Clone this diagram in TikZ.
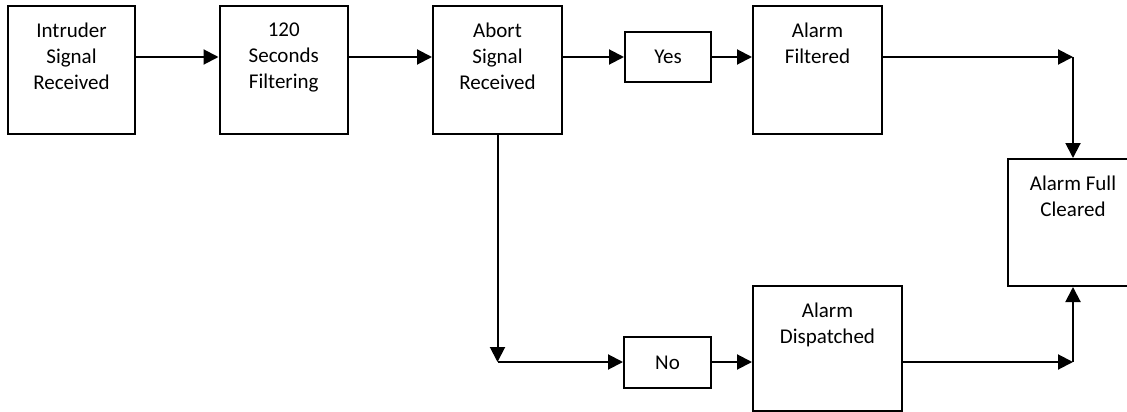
\documentclass[tikz,border=0pt]{standalone}
\usepackage{fontspec}
\setmainfont{Carlito}
\usetikzlibrary{arrows.meta}
\begin{document}
\begin{tikzpicture}[x=1pt,y=-1pt,
  box/.style={draw=black, line width=2pt, rectangle, inner sep=0pt, anchor=north west, font=\fontsize{21}{26}\selectfont},
  lbl/.style={anchor=north, inner sep=0pt, align=center, font=\fontsize{21}{26}\selectfont, execute at begin node={\rule{0pt}{15.5pt}}},
  arr/.style={line width=2pt, -{Triangle[length=15pt,width=15pt]}}]
\useasboundingbox (0,0) rectangle (1127,412);
\clip (0,0) rectangle (1127,412);
% rows for connectors
\coordinate (toprow) at (0,57);
\coordinate (botrow) at (0,362);
% boxes
\node[box, minimum width=127pt, minimum height=128pt] (A) at (7,5) {};
\node[box, minimum width=128.5pt, minimum height=128pt] (B) at (218.5,5) {};
\node[box, minimum width=129pt, minimum height=128pt] (C) at (432,5) {};
\node[box, minimum width=86pt, minimum height=50pt] (Y) at (624,31) {Yes};
\node[box, minimum width=129pt, minimum height=128pt] (D) at (752,5) {};
\node[box, minimum width=87pt, minimum height=51pt] (N) at (623,336) {No};
\node[box, minimum width=149pt, minimum height=125pt] (E) at (752,285) {};
\node[box, minimum width=130pt, minimum height=127pt] (F) at (1007,158) {};
% labels
\node[lbl] (tA) at ([yshift=-18pt]A.north) {Intruder\\Signal\\Received};
\node[lbl] (tB) at ([yshift=-18pt]B.north) {120\\Seconds\\Filtering};
\node[lbl] (tC) at ([yshift=-18pt]C.north) {Abort\\Signal\\Received};
\node[lbl] (tD) at ([yshift=-18pt]D.north) {Alarm\\Filtered};
\node[lbl] (tE) at ([yshift=-18pt]E.north) {Alarm\\Dispatched};
\node[lbl] (tF) at ([yshift=-18pt]F.north) {Alarm Full\\Cleared};
% corners
\coordinate (c1) at (F.north |- toprow);
\coordinate (c2) at (C.south |- botrow);
\coordinate (c3) at (F.south |- botrow);
% connectors
\draw[arr] (A.east |- toprow) -- (B.west |- toprow);
\draw[arr] (B.east |- toprow) -- (C.west |- toprow);
\draw[arr] (C.east |- toprow) -- (Y.west |- toprow);
\draw[arr] (Y.east |- toprow) -- (D.west |- toprow);
\draw[arr] (D.east |- toprow) -- (c1);
\draw[arr] (c1) -- (F.north);
\draw[arr] (C.south) -- (c2);
\draw[arr] (c2) -- (N.west |- botrow);
\draw[arr] (N.east |- botrow) -- (E.west |- botrow);
\draw[arr] (E.east |- botrow) -- (c3);
\draw[arr] (c3) -- (F.south);
\end{tikzpicture}
\end{document}
